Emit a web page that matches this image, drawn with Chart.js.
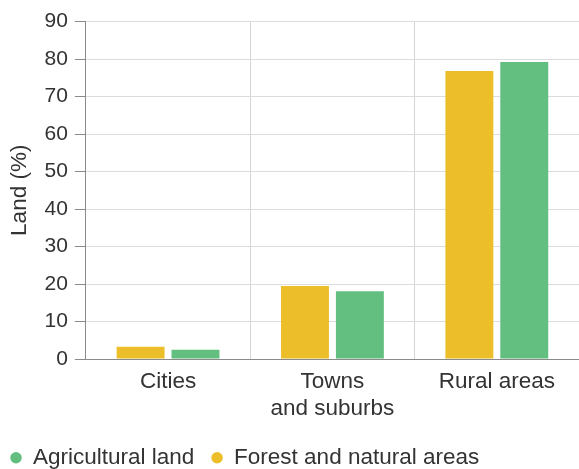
<!DOCTYPE html>
<html><head><meta charset="utf-8">
<script src="https://cdn.jsdelivr.net/npm/chart.js@4.4.1/dist/chart.umd.min.js"></script>
<style>html,body{margin:0;padding:0;background:#fff;overflow:hidden}#wrap{width:579px;height:469px}</style>
</head><body><div id="wrap"><canvas id="c"></canvas></div>
<script>
const categories = [["Cities"], ["Towns", "and suburbs"], ["Rural areas"]];
const forestValues = [3.3, 19.5, 76.8];
const agriValues = [2.5, 18.1, 79.2];
const yTicks = [0, 10, 20, 30, 40, 50, 60, 70, 80, 90];
const seriesNames = ["Forest and natural areas", "Agricultural land"];

const FONT = "'Liberation Sans', Arial, sans-serif";
const TXT = '#333';
new Chart(document.getElementById('c'), {
  type: 'bar',
  data: {
    labels: categories,
    datasets: [
      { label: seriesNames[0], data: forestValues, backgroundColor: '#ECBF2A' },
      { label: seriesNames[1], data: agriValues, backgroundColor: '#63BF80' }
    ]
  },
  options: {
    responsive: true, maintainAspectRatio: false, animation: false,
    categoryPercentage: 0.668, barPercentage: 0.873,
    layout: { padding: { left: -6.75, right: 0, top: 21.5, bottom: -10 } },
    plugins: {
      tooltip: { enabled: false },
      legend: {
        position: 'bottom', align: 'start', reverse: true,
        labels: {
          usePointStyle: true, pointStyle: 'circle', boxWidth: 8, boxHeight: 8, pointStyleWidth: 11.5,
          padding: 17, color: TXT, font: { family: FONT, size: 22.5 }
        }
      }
    },
    scales: {
      x: {
        grid: { color: '#d4d4d4', drawTicks: false, offset: true },
        border: { color: '#8a8a8a', width: 1 },
        ticks: { color: TXT, font: { family: FONT, size: 22.5, lineHeight: 1.2 }, padding: 9, maxRotation: 0 },
        afterFit: (s) => { s.height = 70.5; }
      },
      y: {
        min: 0, max: 90,
        afterBuildTicks: (s) => { s.ticks = yTicks.map(v => ({ value: v })); },
        grid: { color: '#dcdcdc', tickLength: 11, tickColor: '#8a8a8a' },
        border: { color: '#8a8a8a', width: 1 },
        ticks: { color: TXT, font: { family: FONT, size: 21 }, padding: 7 },
        title: { display: true, text: 'Land (%)', color: TXT, font: { family: FONT, size: 22.5, lineHeight: 1.2 }, padding: { top: 13.25, bottom: 4 } }
      }
    }
  }
});
</script></body></html>
